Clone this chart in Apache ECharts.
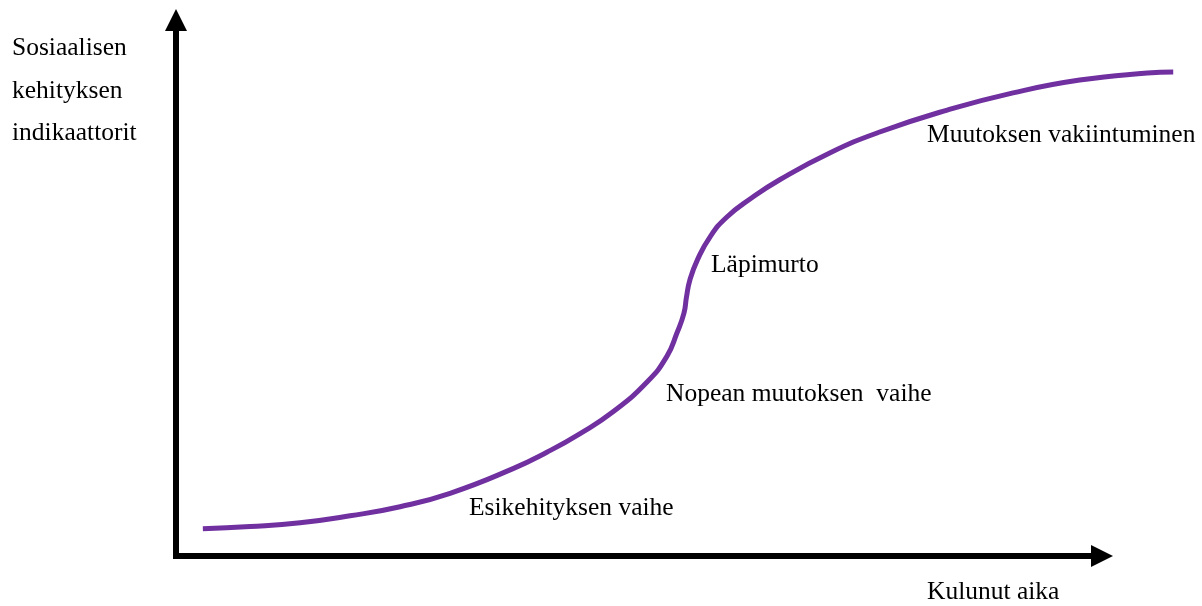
<!DOCTYPE html>
<html>
<head>
<meta charset="utf-8">
<title>Sosiaalisen kehityksen S-käyrä</title>
<script src="https://cdn.jsdelivr.net/npm/echarts@6/dist/echarts.min.js"></script>
<style>
    html, body { margin: 0; padding: 0; background: #fff; }
    #main { width: 1202px; height: 606px; }
</style>
</head>
<body>
<div id="main"></div>
<script>
// aika-akseli (0..100 = nuolen kärkeen asti), käyrä jatkuu hieman yli
const timeValues = [2.9, 8.0, 13.4, 18.8, 24.2, 29.6, 36.4, 40.1, 43.6, 47.2, 50.9, 53.0, 54.1, 54.86, 55.13, 55.5, 56.3, 57.7, 59.5, 62.0, 65.2, 70.6, 76.0, 83.3, 90.4, 97.6, 104.9, 107.7]
// kehityksen indikaattorit
const levelValues = [5.1, 5.5, 6.2, 7.5, 9.2, 11.7, 16.3, 19.4, 22.8, 26.9, 32.5, 37.2, 41.6, 45.3, 48.3, 51.5, 55.2, 59.6, 63.25, 66.6, 70.2, 75.2, 79.1, 83.2, 86.4, 88.8, 90.1, 90.3]

const yAxisTitle = ['Sosiaalisen', 'kehityksen', 'indikaattorit']
const xAxisTitle = 'Kulunut aika'
const phaseLabels = ['Esikehityksen vaihe', 'Nopean muutoksen  vaihe', 'Läpimurto', 'Muutoksen vakiintuminen']

const serif = '"Liberation Serif", "Times New Roman", serif'

const chart = echarts.init(document.getElementById('main'), null, { renderer: 'canvas' })

// tekstit samalla tyylillä
function txt(text, x, y) {
    return {
        type: 'text',
        x: x,
        y: y,
        style: {
            text: text,
            fill: '#000',
            font: '25.5px ' + serif,
            verticalAlign: 'middle'
        }
    }
}

const axisLineStyle = {
    show: true,
    symbol: ['none', 'triangle'],
    symbolSize: [22, 22],
    lineStyle: { color: '#000', width: 6, cap: 'square' }
}

const hidden = {
    axisLine: { show: false },
    axisTick: { show: false },
    axisLabel: { show: false },
    splitLine: { show: false }
}

const option = {
    animation: false,
    backgroundColor: '#fff',
    // grid 0: näkyvät akselit, grid 1: käyrä (ulottuu x-nuolen yli)
    grid: [
        { left: 176, right: 100, top: 20, bottom: 50 },
        { left: 176, right: 26, top: 20, bottom: 50 }
    ],
    xAxis: [
        { type: 'value', gridIndex: 0, min: 0, max: 100, axisLine: axisLineStyle, axisTick: { show: false }, axisLabel: { show: false }, splitLine: { show: false } },
        Object.assign({ type: 'value', gridIndex: 1, min: 0, max: 108 }, hidden)
    ],
    yAxis: [
        { type: 'value', gridIndex: 0, min: 0, max: 100, axisLine: axisLineStyle, axisTick: { show: false }, axisLabel: { show: false }, splitLine: { show: false } },
        Object.assign({ type: 'value', gridIndex: 1, min: 0, max: 100 }, hidden)
    ],
    series: [
        {
            type: 'line',
            xAxisIndex: 1,
            yAxisIndex: 1,
            data: timeValues.map((t, i) => [t, levelValues[i]]),
            smooth: 0.5,
            showSymbol: false,
            lineStyle: { color: '#7030A0', width: 5 }
        }
    ],
    graphic: [
        txt(yAxisTitle[0], 12, 48.5),
        txt(yAxisTitle[1], 12, 91),
        txt(yAxisTitle[2], 12, 133),
        txt(phaseLabels[0], 469, 508),
        txt(phaseLabels[1], 666, 394),
        txt(phaseLabels[2], 711, 265),
        txt(phaseLabels[3], 927, 135),
        txt(xAxisTitle, 927, 592)
    ]
}

chart.setOption(option)
</script>
</body>
</html>
